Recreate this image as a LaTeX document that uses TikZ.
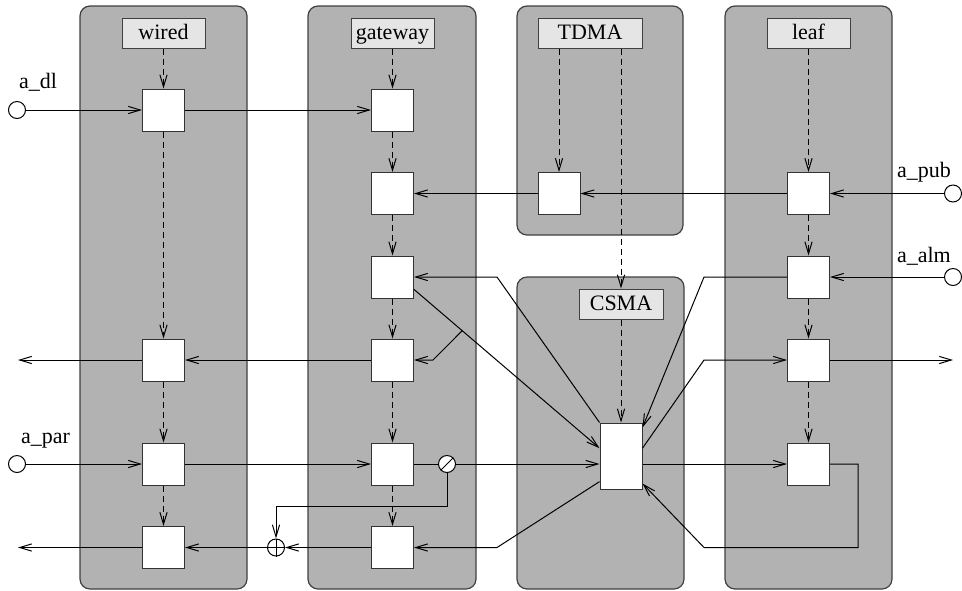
\documentclass[tikz,border=0pt]{standalone}
\usepackage{fontspec}
\setmainfont{Liberation Serif}
\usetikzlibrary{arrows.meta,calc}

\begin{document}
\begin{tikzpicture}[x=0.5pt,y=-0.5pt,>={Straight Barb[length=6pt,width=3.6pt]},
  font=\fontsize{11}{13}\selectfont, line width=0.5pt,
  panel/.style={draw=black!75,fill=gray!60,rounded corners=5pt,line width=0.6pt},
  tag/.style={draw=black!75,fill=gray!20,minimum width=41.5pt,minimum height=15pt,inner sep=0pt,
    text height=7.5pt,text depth=1.5pt},
  blk/.style={draw=black!80,fill=white,minimum width=21pt,minimum height=21pt,inner sep=0pt},
  port/.style={circle,draw,fill=white,minimum size=8.5pt,inner sep=0pt},
  ctrl/.style={->,dash pattern=on 3pt off 2pt}]
\useasboundingbox (0,0) rectangle (962,590);

% panels
\draw[panel] (80,6) rectangle (247,589);
\draw[panel] (308,6) rectangle (476,589);
\draw[panel] (517,6) rectangle (683,235);
\draw[panel] (517,277) rectangle (684,589);
\draw[panel] (725,6) rectangle (892,589);

% titles
\node[tag] (Lw) at (163.5,33) {wired};
\node[tag] (Lg) at (392.5,33) {gateway};
\node[tag,minimum width=52pt] (Lt) at (590,33) {TDMA};
\node[tag] (Ll) at (808.5,33) {leaf};
\node[tag,minimum width=42pt] (Lc) at (621,304) {CSMA};

% blocks
\foreach \n/\y in {1/110,4/360,5/464,6/547.5} \node[blk] (w\n) at (163.5,\y) {};
\foreach \n/\y in {1/110,2/193.5,3/277,4/360,5/464,6/547.5} \node[blk] (g\n) at (392.5,\y) {};
\foreach \n/\y in {2/193.5,3/277,4/360,5/464} \node[blk] (l\n) at (808.5,\y) {};
\node[blk] (t2) at (559,193.5) {};
\node[blk,minimum height=33pt] (c1) at (621,456) {};

% ports
\node[port] (pdl) at (17,110) {};
\node[anchor=base west] (tdl) at (12,88) {a\_dl};
\node[port] (ppar) at (17,464) {};
\node[anchor=base west] (tpar) at (14,443) {a\_par};
\node[port] (ppub) at (953,193.5) {};
\node[anchor=base east] (tpub) at (958,177) {a\_pub};
\node[port] (palm) at (953,277) {};
\node[anchor=base east] (talm) at (958,262) {a\_alm};
\coordinate (o4w) at (18,360);
\coordinate (o6w) at (18,547.5);
\coordinate (o4e) at (953,360);

% slash and sum
\node[port] (sl) at (447,464) {};
\draw (sl.225) -- (sl.45);
\node[port] (op) at (276,547.5) {};
\draw (op.north) -- (op.south) (op.west) -- (op.east);

% bends
\coordinate (ka) at (497,277);
\coordinate (kb) at (704,277);
\coordinate (kc) at (704,360);
\coordinate (kd) at (433,360);
\coordinate (ke) at (497,547.5);
\coordinate (kf) at (858,464);
\coordinate (kg) at (858,547.5);
\coordinate (kh) at (704,547.5);
\coordinate (ki) at (447,506);
\coordinate (kj) at (276,506);

% data flow
\foreach \a/\b in {pdl/w1,w1/g1,ppar/w5,w5/g5,ppub/l2,l2/t2,t2/g2,palm/l3,g4/w4,w4/o4w,l4/o4e,g6/op,op/w6,w6/o6w}
  \draw[->] (\a) -- (\b);
\draw (g5) -- (sl);
\draw[->] (sl) -- (sl -| c1.west);
\draw[->] (c1.east |- l5) -- (l5);
\draw[->] (c1.north west) -- (ka) -- (g3);
\draw[->] (g3.-30) -- coordinate[pos=0.26] (br) (c1.160);
\draw[->] (br) -- (kd) -- (g4);
\draw[->] (l3) -- (kb) -- (c1.53);
\draw[->] (c1.20) -- (kc) -- (l4);
\draw[->] (c1.230) -- (ke) -- (g6);
\draw[->] (l5) -- (kf) -- (kg) -- (kh) -- (c1.-52);
\draw[->] (sl) -- (ki) -- (kj) -- (op);

% control
\foreach \a/\b in {Lw/w1,w1/w4,w4/w5,w5/w6,Lg/g1,g1/g2,g2/g3,g3/g4,g4/g5,g5/g6,Lc/c1,Ll/l2,l2/l3,l3/l4,l4/l5}
  \draw[ctrl] (\a) -- (\b);
\draw[ctrl] (Lt.south -| t2) -- (t2);
\draw[ctrl] (Lt.south -| Lc) -- (Lc);
\end{tikzpicture}
\end{document}
